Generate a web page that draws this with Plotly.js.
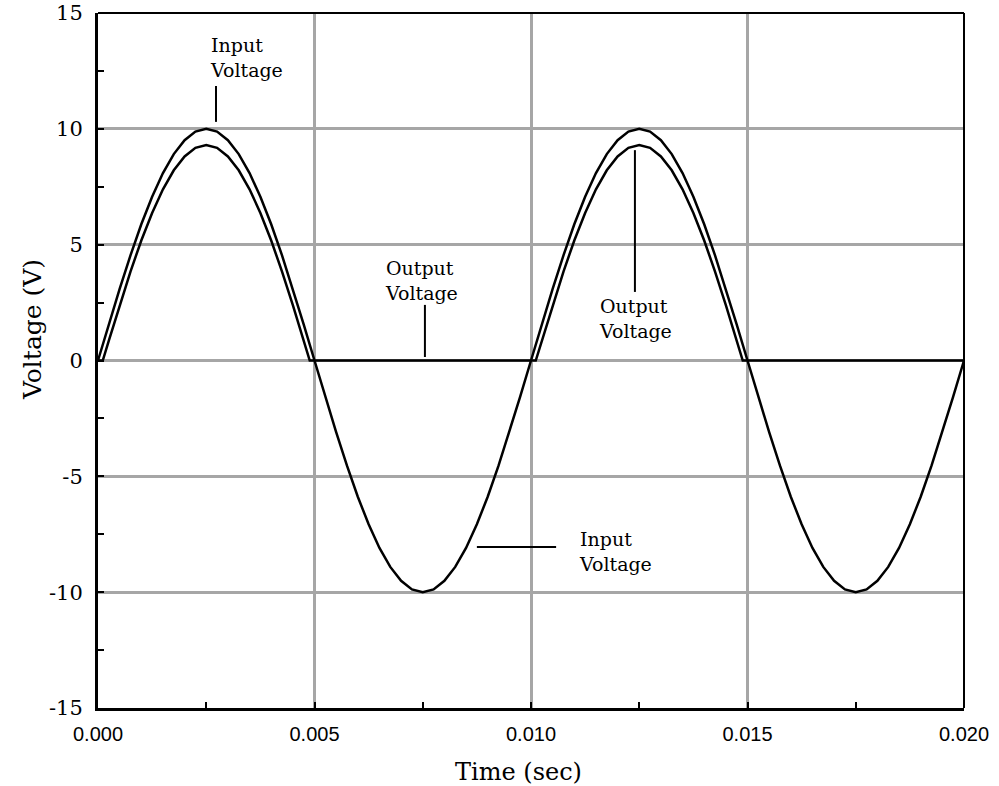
<!DOCTYPE html>
<html>
<head>
<meta charset="utf-8">
<script src="https://cdn.plot.ly/plotly-3.0.1.min.js"></script>
<style>html,body{margin:0;padding:0;background:#fff;}#chart{width:999px;height:786px;}</style>
</head>
<body>
<div id="chart"></div>
<script>
// Time (sec) for the input voltage samples
const inputTime = [
  0, 0.00025, 0.0005, 0.00075, 0.001, 0.00125, 0.0015, 0.00175, 0.002, 0.00225,
  0.0025, 0.00275, 0.003, 0.00325, 0.0035, 0.00375, 0.004, 0.00425, 0.0045, 0.00475,
  0.005, 0.00525, 0.0055, 0.00575, 0.006, 0.00625, 0.0065, 0.00675, 0.007, 0.00725,
  0.0075, 0.00775, 0.008, 0.00825, 0.0085, 0.00875, 0.009, 0.00925, 0.0095, 0.00975,
  0.01, 0.01025, 0.0105, 0.01075, 0.011, 0.01125, 0.0115, 0.01175, 0.012, 0.01225,
  0.0125, 0.01275, 0.013, 0.01325, 0.0135, 0.01375, 0.014, 0.01425, 0.0145, 0.01475,
  0.015, 0.01525, 0.0155, 0.01575, 0.016, 0.01625, 0.0165, 0.01675, 0.017, 0.01725,
  0.0175, 0.01775, 0.018, 0.01825, 0.0185, 0.01875, 0.019, 0.01925, 0.0195, 0.01975,
  0.02
];
// Input voltage (V)
const inputVoltage = [
  0, 1.56, 3.09, 4.54, 5.88, 7.07, 8.09, 8.91, 9.51, 9.88,
  10.00, 9.88, 9.51, 8.91, 8.09, 7.07, 5.88, 4.54, 3.09, 1.56,
  0, -1.56, -3.09, -4.54, -5.88, -7.07, -8.09, -8.91, -9.51, -9.88,
  -10.00, -9.88, -9.51, -8.91, -8.09, -7.07, -5.88, -4.54, -3.09, -1.56,
  0, 1.56, 3.09, 4.54, 5.88, 7.07, 8.09, 8.91, 9.51, 9.88,
  10.00, 9.88, 9.51, 8.91, 8.09, 7.07, 5.88, 4.54, 3.09, 1.56,
  0, -1.56, -3.09, -4.54, -5.88, -7.07, -8.09, -8.91, -9.51, -9.88,
  -10.00, -9.88, -9.51, -8.91, -8.09, -7.07, -5.88, -4.54, -3.09, -1.56,
  0
];
// Time (sec) for the output voltage samples
const outputTime = [
  0, 0.00011, 0.00025, 0.0005, 0.00075, 0.001, 0.00125, 0.0015, 0.00175, 0.002,
  0.00225, 0.0025, 0.00275, 0.003, 0.00325, 0.0035, 0.00375, 0.004, 0.00425, 0.0045,
  0.00475, 0.00489, 0.01011, 0.01025, 0.0105, 0.01075, 0.011, 0.01125, 0.0115, 0.01175,
  0.012, 0.01225, 0.0125, 0.01275, 0.013, 0.01325, 0.0135, 0.01375, 0.014, 0.01425,
  0.0145, 0.01475, 0.01489, 0.02
];
// Output voltage (V)
const outputVoltage = [
  0, 0, 0.86, 2.39, 3.84, 5.18, 6.37, 7.39, 8.21, 8.81,
  9.18, 9.30, 9.18, 8.81, 8.21, 7.39, 6.37, 5.18, 3.84, 2.39,
  0.86, 0, 0, 0.86, 2.39, 3.84, 5.18, 6.37, 7.39, 8.21,
  8.81, 9.18, 9.30, 9.18, 8.81, 8.21, 7.39, 6.37, 5.18, 3.84,
  2.39, 0.86, 0, 0
];
// Axis ticks and titles
const xTickVals = [0, 0.005, 0.01, 0.015, 0.02];
const xTickText = ["0.000", "0.005", "0.010", "0.015", "0.020"];
const yTickVals = [-15, -10, -5, 0, 5, 10, 15];
const yTickText = ["-15", "-10", "-5", "0", "5", "10", "15"];
const xTitle = "Time (sec)";
const yTitle = "Voltage (V)";
// Callout labels
const labelText = ["Input<br>Voltage", "Output<br>Voltage", "Output<br>Voltage", "Input<br>Voltage"];
const labelX = [0.00254, 0.00658, 0.01152, 0.01106];
const labelY = [13.1, 3.47, 1.83, -8.26];
// Callout leader lines [x0, y0, x1, y1]
const leaders = [
  [0.002725, 11.85, 0.002725, 10.3],
  [0.00755, 2.4, 0.00755, 0.15],
  [0.0124, 9.08, 0.0124, 2.96],
  [0.00875, -8.05, 0.01058, -8.05]
];

const serif = "DejaVu Serif, Liberation Serif, serif";

const traces = [
  {x: inputTime, y: inputVoltage, type: 'scatter', mode: 'lines',
   line: {color: '#000', width: 2.5}, hoverinfo: 'skip'},
  {x: outputTime, y: outputVoltage, type: 'scatter', mode: 'lines',
   line: {color: '#000', width: 2.5}, hoverinfo: 'skip'}
];

const shapes = leaders.map(l => ({
  type: 'line', xref: 'x', yref: 'y', x0: l[0], y0: l[1], x1: l[2], y1: l[3],
  line: {color: '#000', width: 2}
}));
shapes.push({type: 'line', xref: 'paper', yref: 'paper', x0: 0, x1: 1, y0: 1, y1: 1, line: {color: '#000', width: 2}});
shapes.push({type: 'line', xref: 'paper', yref: 'paper', x0: 1, x1: 1, y0: 0, y1: 1, line: {color: '#000', width: 2}});

const annotations = labelText.map((t, i) => ({
  x: labelX[i], y: labelY[i], xref: 'x', yref: 'y', text: t, showarrow: false,
  xanchor: 'left', yanchor: 'middle', align: 'left',
  font: {family: serif, size: 19, color: '#000'}
}));
annotations.push({
  x: 0.485, y: -0.092, xref: 'paper', yref: 'paper', text: xTitle, showarrow: false,
  xanchor: 'center', yanchor: 'middle', font: {family: serif, size: 24, color: '#000'}
});
annotations.push({
  x: -0.075, y: 0.544, xref: 'paper', yref: 'paper', text: yTitle, showarrow: false,
  textangle: -90, xanchor: 'center', yanchor: 'middle', font: {family: serif, size: 25, color: '#000'}
});

const layout = {
  width: 999, height: 786,
  margin: {l: 98, r: 35, t: 13, b: 78, pad: 0},
  paper_bgcolor: '#fff', plot_bgcolor: '#fff',
  showlegend: false,
  xaxis: {
    range: [0, 0.02], tickvals: xTickVals, ticktext: xTickText,
    showgrid: true, gridcolor: '#a6a6a6', gridwidth: 3,
    zeroline: false, showline: true, linecolor: '#000', linewidth: 3, mirror: false,
    ticks: 'inside', ticklen: 6, tickwidth: 2, tickcolor: '#000',
    minor: {dtick: 0.0025, tick0: 0, ticks: 'inside', ticklen: 6, tickwidth: 2, tickcolor: '#000', showgrid: false},
    tickfont: {family: 'Liberation Sans, Arial, sans-serif', size: 20, color: '#000'},
    ticklabelstandoff: 6
  },
  yaxis: {
    range: [-15, 15], tickvals: yTickVals, ticktext: yTickText,
    showgrid: true, gridcolor: '#a6a6a6', gridwidth: 3,
    zeroline: false, showline: true, linecolor: '#000', linewidth: 3, mirror: false,
    ticks: 'inside', ticklen: 6, tickwidth: 2, tickcolor: '#000',
    minor: {dtick: 2.5, tick0: 0, ticks: 'inside', ticklen: 6, tickwidth: 2, tickcolor: '#000', showgrid: false},
    tickfont: {family: serif, size: 21, color: '#000'},
    ticklabelstandoff: 8
  },
  shapes: shapes,
  annotations: annotations
};

Plotly.newPlot('chart', traces, layout, {displayModeBar: false, staticPlot: true});
</script>
</body>
</html>
